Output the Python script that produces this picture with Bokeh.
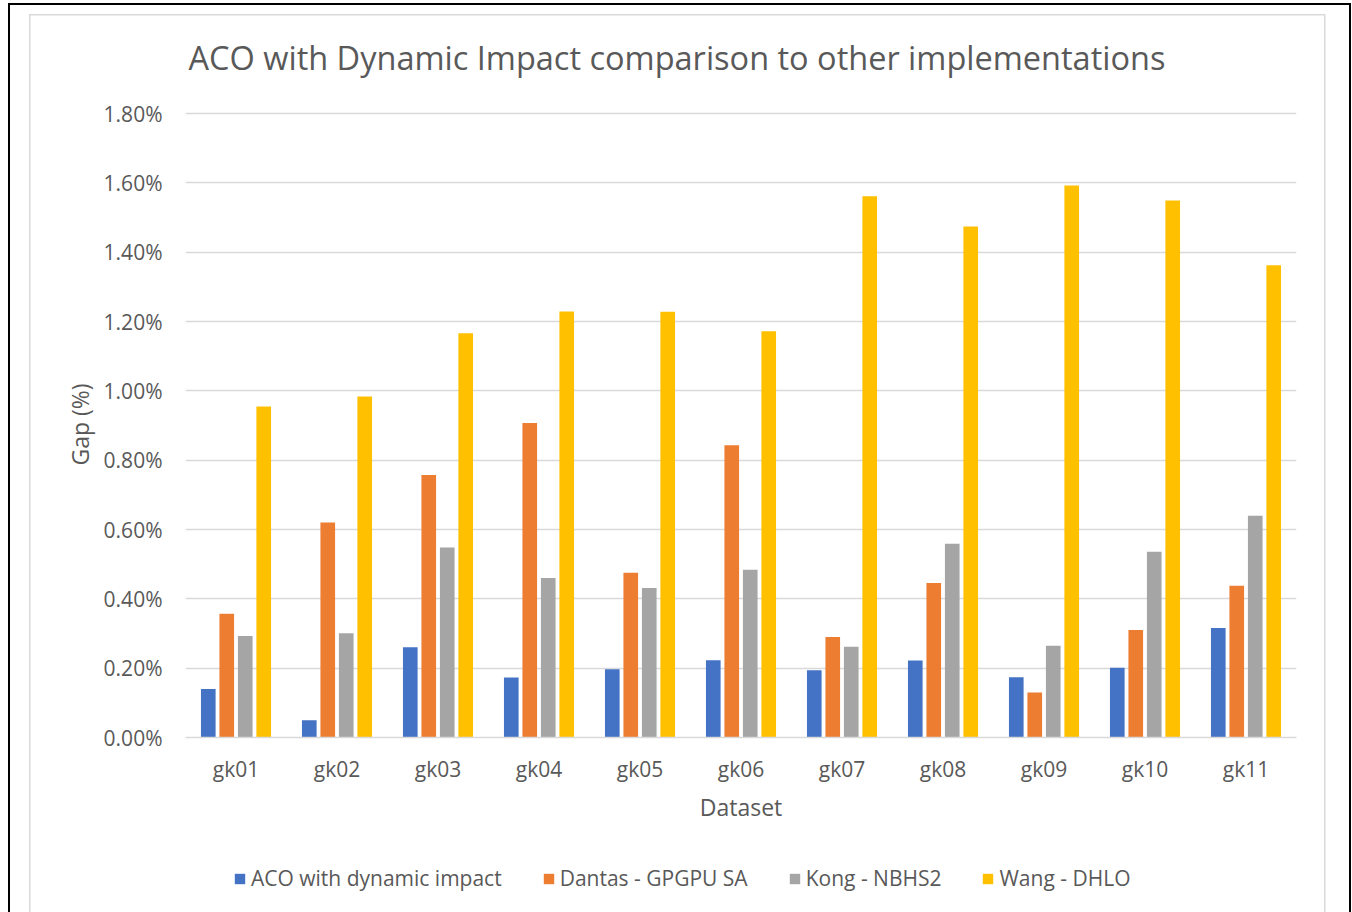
from bokeh.plotting import figure
from bokeh.layouts import column
from bokeh.models import (ColumnDataSource, FactorRange, Range1d, FixedTicker, PrintfTickFormatter,
                          Legend, LegendItem, Title)
from bokeh.transform import dodge
from bokeh.embed import file_html
from bokeh.resources import INLINE

datasets = ["gk01", "gk02", "gk03", "gk04", "gk05", "gk06", "gk07", "gk08", "gk09", "gk10", "gk11"]
aco_dynamic = [0.140, 0.050, 0.260, 0.173, 0.197, 0.223, 0.194, 0.222, 0.174, 0.201, 0.316]
dantas_gpgpu_sa = [0.357, 0.620, 0.757, 0.907, 0.475, 0.843, 0.290, 0.446, 0.130, 0.310, 0.438]
kong_nbhs2 = [0.293, 0.301, 0.548, 0.460, 0.431, 0.484, 0.262, 0.559, 0.265, 0.536, 0.640]
wang_dhlo = [0.955, 0.984, 1.166, 1.229, 1.228, 1.172, 1.561, 1.474, 1.592, 1.549, 1.362]
series_names = ["ACO with dynamic impact", "Dantas - GPGPU SA", "Kong - NBHS2", "Wang - DHLO"]
y_ticks = [0.0, 0.2, 0.4, 0.6, 0.8, 1.0, 1.2, 1.4, 1.6, 1.8]
title_text = "ACO with Dynamic Impact comparison to other implementations"

colors = ["#4472C4", "#ED7D31", "#A5A5A5", "#FFC000"]
FONT = "Open Sans"
TXT = "#595959"

source = ColumnDataSource(dict(cat=datasets, s0=aco_dynamic, s1=dantas_gpgpu_sa, s2=kong_nbhs2, s3=wang_dhlo))
cols = ["s0", "s1", "s2", "s3"]

# ---------------- main chart (1352 x 850) ----------------
y_end = 1.8 * 626.0 / 624.0   # keeps the 1.80% gridline just inside the frame
p = figure(x_range=FactorRange(factors=datasets, range_padding=0), y_range=Range1d(0, y_end),
           frame_width=1111, frame_height=626,
           min_border_left=185, min_border_right=56, min_border_top=111, min_border_bottom=113,
           output_backend="svg", toolbar_location=None)
p.background_fill_color = "white"
p.border_fill_alpha = 0
p.outline_line_color = None

p.title = Title(text=title_text, align="left", offset=3, standoff=63, text_font=FONT,
                text_font_size="32.5px", text_color=TXT, text_font_style="normal")

offsets = [-0.2745, -0.0915, 0.0915, 0.2745]
for i, col in enumerate(cols):
    p.vbar(x=dodge("cat", offsets[i], range=p.x_range), top=col, width=0.145, source=source,
           fill_color=colors[i], line_color=None)

p.yaxis.ticker = FixedTicker(ticks=y_ticks)
p.yaxis.formatter = PrintfTickFormatter(format="%.2f%%")
p.yaxis.axis_line_color = None
p.yaxis.major_tick_line_color = None
p.yaxis.minor_tick_line_color = None
p.yaxis.major_tick_out = 0
p.yaxis.major_tick_in = 0
p.yaxis.major_label_standoff = 23
p.yaxis.major_label_text_font = FONT
p.yaxis.major_label_text_font_size = "21px"
p.yaxis.major_label_text_color = TXT
p.yaxis.axis_label = "Gap (%)"
p.yaxis.axis_label_standoff = 5
p.yaxis.axis_label_text_font = FONT
p.yaxis.axis_label_text_font_size = "23px"
p.yaxis.axis_label_text_font_style = "normal"
p.yaxis.axis_label_text_color = TXT

p.xaxis.axis_line_color = "#D9D9D9"
p.xaxis.axis_line_width = 1.5
p.xaxis.major_tick_line_color = None
p.xaxis.minor_tick_line_color = None
p.xaxis.major_tick_out = 0
p.xaxis.major_tick_in = 0
p.xaxis.major_label_standoff = 17
p.xaxis.major_label_text_font = FONT
p.xaxis.major_label_text_font_size = "21px"
p.xaxis.major_label_text_color = TXT
p.xaxis.axis_label = "Dataset"
p.xaxis.axis_label_standoff = 5
p.xaxis.axis_label_text_font = FONT
p.xaxis.axis_label_text_font_size = "23px"
p.xaxis.axis_label_text_font_style = "normal"
p.xaxis.axis_label_text_color = TXT

p.xgrid.grid_line_color = None
p.ygrid.grid_line_color = "#D9D9D9"
p.ygrid.grid_line_width = 1.5

# ---------------- legend strip (1352 x 62) ----------------
# the series are attached here with zero width, only to supply the legend swatches
lg = figure(x_range=FactorRange(factors=datasets, range_padding=0), y_range=Range1d(1000, 1001),
            frame_width=1352, frame_height=62,
            min_border=0, output_backend="svg", toolbar_location=None,
            x_axis_location=None, y_axis_location=None)
lg.background_fill_alpha = 0
lg.border_fill_alpha = 0
lg.outline_line_color = None
lg.grid.visible = False
swatches = [lg.vbar(x="cat", top=col, width=0, source=source, fill_color=colors[i], line_color=None)
            for i, col in enumerate(cols)]

legend = Legend(items=[LegendItem(label=series_names[i], renderers=[swatches[i]]) for i in range(4)],
                orientation="horizontal", location=(233, 20),
                glyph_width=13, glyph_height=13, label_standoff=5, spacing=40,
                padding=0, margin=0, border_line_color=None, background_fill_alpha=0,
                label_text_font=FONT, label_text_font_size="21px", label_text_color=TXT,
                label_height=13)
lg.add_layout(legend, "center")

# chart borders drawn as CSS background lines on the layout element
lines = [
    ("black", "8px 3px", "2px 100%"),
    ("black", "8px 3px", "1343px 2px"),
    ("black", "1349px 3px", "2px 100%"),
    ("#D9D9D9", "29px 14px", "1.5px 100%"),
    ("#D9D9D9", "29px 14px", "1296px 1.5px"),
    ("#D9D9D9", "1324px 14px", "1.5px 100%"),
]
layout = column(p, lg, spacing=0)
layout.styles = {
    "background-color": "white",
    "background-image": ", ".join(f"linear-gradient({c}, {c})" for c, _, _ in lines),
    "background-position": ", ".join(pos for _, pos, _ in lines),
    "background-size": ", ".join(sz for _, _, sz in lines),
    "background-repeat": "no-repeat",
}

open("out.html", "w").write(file_html(layout, INLINE))
